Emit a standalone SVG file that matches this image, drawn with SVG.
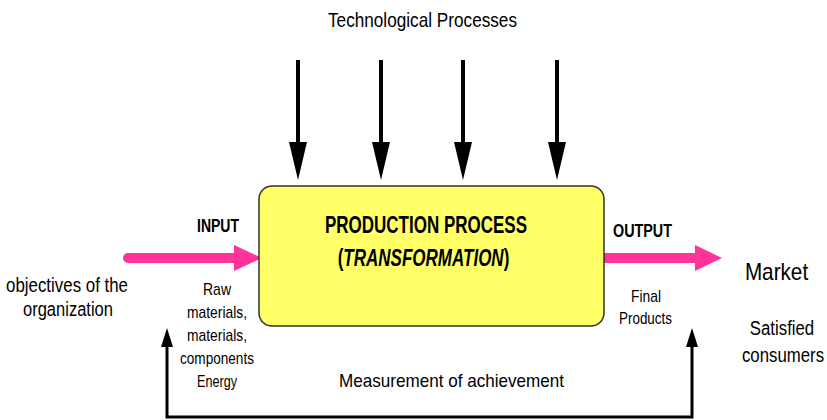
<svg xmlns="http://www.w3.org/2000/svg" width="827" height="420" viewBox="0 0 827 420">
<defs>
<style>
text{font-family:"Liberation Sans",Arial,sans-serif;fill:#000;text-anchor:middle}
.b{font-weight:bold}
.blk{stroke:#000;stroke-width:4;fill:none}
.fb{stroke:#000;stroke-width:3;fill:none}
.pink{stroke:#FF3399;stroke-width:10;stroke-linecap:round;fill:none}
</style>
</defs>
<rect width="827" height="420" fill="#fff"/>
<text x="422.5" y="27" font-size="21" textLength="189" lengthAdjust="spacingAndGlyphs">Technological Processes</text>
<g id="connectors">
<line class="blk" x1="298" y1="60" x2="298" y2="142"/><path d="M289,142 L307,142 L298,180 Z"/>
<line class="blk" x1="381" y1="60" x2="381" y2="142"/><path d="M372,142 L390,142 L381,180 Z"/>
<line class="blk" x1="463" y1="60" x2="463" y2="142"/><path d="M454,142 L472,142 L463,180 Z"/>
<line class="blk" x1="557" y1="60" x2="557" y2="142"/><path d="M548,142 L566,142 L557,180 Z"/>
<line class="pink" x1="128" y1="258" x2="236" y2="258"/><path d="M234,245 L262,258 L234,271 Z" fill="#FF3399"/>
<line class="pink" x1="602" y1="258" x2="697" y2="258"/><path d="M695,245 L722,258 L695,271 Z" fill="#FF3399"/>
<path class="fb" d="M167,345 L167,417 L692,417 L692,345"/>
<path d="M161,347 L167,328 L173,347 Z"/>
<path d="M686,347 L692,328 L698,347 Z"/>
</g>
<g id="process">
<rect x="259" y="186" width="345" height="140" rx="13" fill="#FFFF66" stroke="#333" stroke-width="1.5"/>
<text class="b" x="426" y="233" font-size="23" textLength="202" lengthAdjust="spacingAndGlyphs">PRODUCTION PROCESS</text>
<text class="b" transform="translate(423.5,266) scale(0.74,1)" font-size="23">(<tspan font-style="italic">TRANSFORMATION</tspan>)</text>
</g>
<g id="input">
<text class="b" x="218" y="232" font-size="18" textLength="42" lengthAdjust="spacingAndGlyphs">INPUT</text>
<text x="217" y="295" font-size="17" textLength="28" lengthAdjust="spacingAndGlyphs">Raw</text>
<text x="217" y="318" font-size="17" textLength="60" lengthAdjust="spacingAndGlyphs">materials,</text>
<text x="217" y="341" font-size="17" textLength="60" lengthAdjust="spacingAndGlyphs">materials,</text>
<text x="217" y="364" font-size="17" textLength="74" lengthAdjust="spacingAndGlyphs">components</text>
<text x="217" y="387" font-size="17" textLength="40" lengthAdjust="spacingAndGlyphs">Energy</text>
</g>
<g id="output">
<text class="b" x="642.5" y="237" font-size="18" textLength="59" lengthAdjust="spacingAndGlyphs">OUTPUT</text>
<text x="646" y="302" font-size="17" textLength="30" lengthAdjust="spacingAndGlyphs">Final</text>
<text x="645.5" y="324" font-size="17" textLength="53" lengthAdjust="spacingAndGlyphs">Products</text>
</g>
<g id="objectives">
<text x="67" y="292" font-size="20" textLength="122" lengthAdjust="spacingAndGlyphs">objectives of the</text>
<text x="68" y="316" font-size="20" textLength="90" lengthAdjust="spacingAndGlyphs">organization</text>
</g>
<g id="market">
<text transform="translate(776.5,280) scale(0.9,1)" font-size="23">Market</text>
<text transform="translate(782,335) scale(0.8,1)" font-size="21">Satisfied</text>
<text transform="translate(783,362) scale(0.8,1)" font-size="21">consumers</text>
</g>
<text x="451.5" y="387" font-size="19" textLength="225" lengthAdjust="spacingAndGlyphs">Measurement of achievement</text>
</svg>
